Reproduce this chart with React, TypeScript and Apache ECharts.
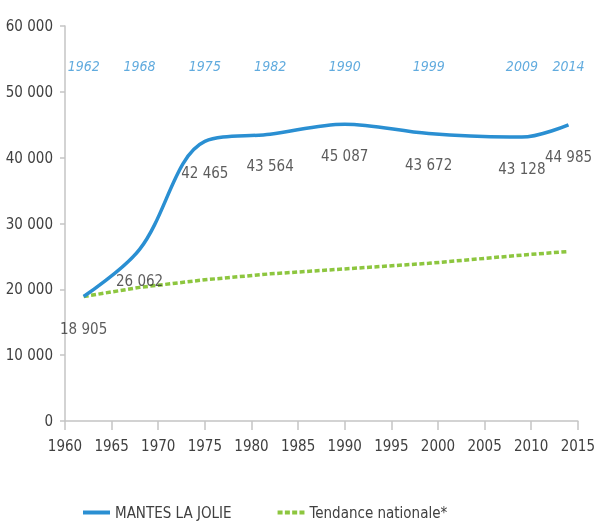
import React, { useEffect, useRef } from "react";
import * as echarts from "echarts";

const years = [1962, 1968, 1975, 1982, 1990, 1999, 2009, 2014];
const mantesValues = [18905, 26062, 42465, 43564, 45087, 43672, 43128, 44985];
const nationalValues = [18905, 20300, 21450, 22350, 23100, 23950, 25200, 25750];
const yearLabelLevel = 54000;
const xTicks = { min: 1960, max: 2015, interval: 5 };
const yTicks = { min: 0, max: 60000, interval: 10000 };

const FONT = '"DejaVu Sans Condensed", "Liberation Sans Narrow", sans-serif';
const fmt = (v: number) => String(v).replace(/\B(?=(\d{3})+(?!\d))/g, " ");

const BLUE = "#2a8fd2";
const GREEN = "#8dc63f";
const SOLID_ICON = "path://M0,0L27,0L27,4L0,4Z";
const DOT_ICON = "path://M0,0h5v4h-5zM7.3,0h5v4h-5zM14.6,0h5v4h-5zM21.9,0h5v4h-5z";

export default function App() {
  const ref = useRef<HTMLDivElement>(null);
  useEffect(() => {
    if (!ref.current) return;
    const chart = echarts.init(ref.current, undefined, { renderer: "svg" });
    const mantes = years.map((y, i) => [y, mantesValues[i]]);
    const national = years.map((y, i) => [y, nationalValues[i]]);
    const yearMarks = years.map((y) => [y, yearLabelLevel]);
    chart.setOption({
      animation: false,
      textStyle: { fontFamily: FONT },
      grid: { left: 65, right: 16, top: 26, bottom: 101, containLabel: false },
      xAxis: {
        type: "value",
        min: xTicks.min,
        max: xTicks.max,
        interval: xTicks.interval,
        axisLine: { show: true, lineStyle: { color: "#c4c4c4", width: 1.5 } },
        axisTick: { show: true, length: 9, lineStyle: { color: "#c4c4c4", width: 1.5 } },
        splitLine: { show: false },
        axisLabel: { margin: 17, fontSize: 15, color: "#404040", fontFamily: FONT, formatter: (v: number) => String(v) },
      },
      yAxis: {
        type: "value",
        min: yTicks.min,
        max: yTicks.max,
        interval: yTicks.interval,
        axisLine: { show: true, lineStyle: { color: "#c4c4c4", width: 1.5 } },
        axisTick: { show: true, length: 5, lineStyle: { color: "#c4c4c4", width: 1.5 } },
        splitLine: { show: false },
        axisLabel: { margin: 12, fontSize: 15, color: "#404040", fontFamily: FONT, formatter: (v: number) => fmt(v) },
      },
      legend: {
        data: [
          { name: "MANTES LA JOLIE", icon: SOLID_ICON, itemStyle: { color: BLUE } },
          { name: "Tendance nationale*", icon: DOT_ICON, itemStyle: { color: GREEN } },
        ],
        left: 78,
        top: 500,
        itemWidth: 27,
        itemHeight: 4,
        itemGap: 46,
        textStyle: { fontSize: 15, color: "#404040", fontFamily: FONT },
      },
      series: [
        {
          name: "MANTES LA JOLIE",
          type: "line",
          data: mantes,
          smooth: 0.35,
          symbol: "none",
          lineStyle: { color: BLUE, width: 3.5 },
          itemStyle: { color: BLUE },
          z: 3,
        },
        {
          name: "Tendance nationale*",
          type: "line",
          data: national,
          symbol: "none",
          lineStyle: { color: GREEN, width: 3.5, type: [5, 2.5] },
          itemStyle: { color: GREEN },
          z: 2,
        },
        {
          name: "labels",
          type: "scatter",
          data: mantes,
          symbolSize: 1,
          itemStyle: { color: "rgba(0,0,0,0)" },
          label: {
            show: true,
            position: "bottom",
            distance: 24,
            fontSize: 15,
            color: "#333333",
            fontFamily: FONT,
            formatter: (p: any) => fmt(p.value[1]),
          },
          z: 4,
        },
        {
          name: "years",
          type: "scatter",
          data: yearMarks,
          symbolSize: 1,
          itemStyle: { color: "rgba(0,0,0,0)" },
          label: {
            show: true,
            position: "inside",
            fontSize: 14,
            fontStyle: "italic",
            color: "#3a96d6",
            fontFamily: FONT,
            formatter: (p: any) => String(p.value[0]),
          },
          z: 4,
        },
      ],
    });
    return () => chart.dispose();
  }, []);
  return <div ref={ref} style={{ position: "fixed", left: 0, top: 0, width: 598, height: 522 }} />;
}
